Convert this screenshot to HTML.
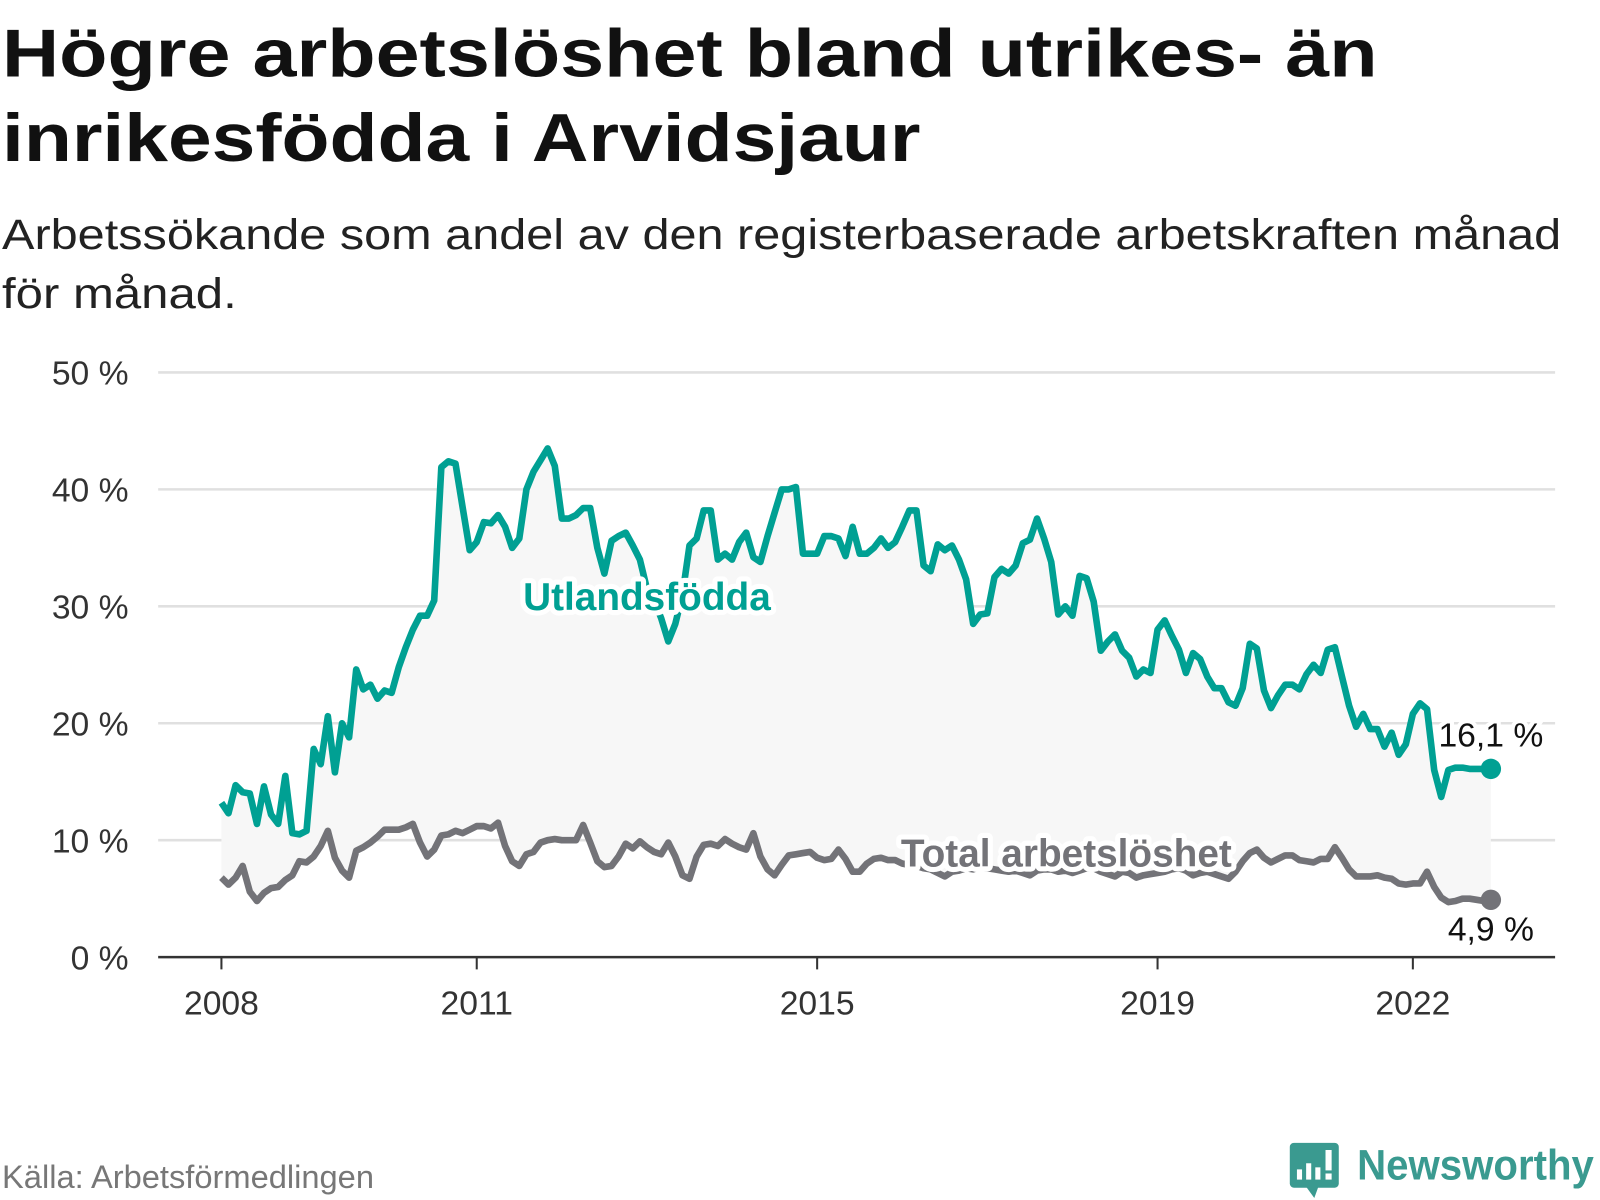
<!DOCTYPE html>
<html><head><meta charset="utf-8">
<style>
html,body{margin:0;padding:0;background:#fff;}
svg{display:block;font-family:"Liberation Sans","DejaVu Sans",sans-serif;}
</style></head>
<body>
<svg id="chart" width="1600" height="1200" viewBox="0 0 1600 1200" xmlns="http://www.w3.org/2000/svg">
 <g transform="scale(1.02041)">
  <text x="2" y="75" font-size="66" font-weight="bold" fill="#111" textLength="1348" lengthAdjust="spacingAndGlyphs">Högre arbetslöshet bland utrikes- än</text>
  <text x="2" y="158" font-size="66" font-weight="bold" fill="#111" textLength="900" lengthAdjust="spacingAndGlyphs">inrikesfödda i Arvidsjaur</text>
  <text x="2" y="244" font-size="42" fill="#222" textLength="1528" lengthAdjust="spacingAndGlyphs">Arbetssökande som andel av den registerbaserade arbetskraften månad</text>
  <text x="2" y="302" font-size="42" fill="#222" textLength="230" lengthAdjust="spacingAndGlyphs">för månad.</text>
  <g id="grid"></g>
  <g id="yticks"></g>
  <g id="xticks"></g>
  <g id="plot"></g>
  <text x="2" y="1164" font-size="32" fill="#777">Källa: Arbetsförmedlingen</text>
  <g>
    <rect x="1264" y="1120" width="48" height="44" rx="4" fill="#3a9a90"/>
    <polygon points="1280,1163 1292,1163 1288,1174" fill="#3a9a90"/>
    <rect x="1271" y="1146" width="5" height="10" fill="#fff"/>
    <rect x="1280" y="1140" width="5" height="16" fill="#fff"/>
    <rect x="1289" y="1144" width="5" height="12" fill="#fff"/>
    <rect x="1299" y="1127" width="6" height="20" fill="#fff"/>
    <rect x="1299" y="1150" width="6" height="6" fill="#fff"/>
    <text x="1330" y="1156" font-size="42" font-weight="bold" fill="#3a9a90" textLength="232" lengthAdjust="spacingAndGlyphs">Newsworthy</text>
  </g>
 </g>
</svg>
<script>
const yTicks = [0, 10, 20, 30, 40, 50];
const xTickYears = [2008, 2011, 2015, 2019, 2022];
const startYear = 2008;
const utlandsfodda = [
13.2,12.3,14.7,14.1,14.0,11.4,14.6,12.2,11.4,15.5,10.6,10.5,
10.8,17.8,16.5,20.6,15.8,20.0,18.8,24.6,22.9,23.3,22.1,22.8,
22.6,24.8,26.5,28.0,29.2,29.2,30.5,41.9,42.4,42.2,38.5,34.8,
35.5,37.2,37.1,37.8,36.8,35.0,35.8,40.0,41.5,42.5,43.5,42.0,
37.5,37.5,37.8,38.4,38.4,35.0,32.8,35.6,36.0,36.3,35.2,34.0,
31.5,30.5,29.0,27.0,28.5,31.0,35.2,35.8,38.2,38.2,34.0,34.5,
34.0,35.5,36.3,34.2,33.8,36.0,38.0,40.0,40.0,40.2,34.5,34.5,
34.5,36.0,36.0,35.8,34.3,36.8,34.5,34.5,35.0,35.8,35.0,35.5,
36.8,38.2,38.2,33.5,33.0,35.3,34.8,35.2,34.0,32.3,28.5,29.3,
29.4,32.5,33.2,32.8,33.5,35.4,35.7,37.5,35.8,33.8,29.3,30.0,
29.2,32.6,32.4,30.4,26.2,27.0,27.6,26.2,25.6,24.0,24.6,24.3,
28.0,28.8,27.5,26.3,24.3,26.0,25.5,24.0,23.0,23.0,21.8,21.5,
23.0,26.8,26.4,22.8,21.3,22.4,23.3,23.3,22.9,24.2,25.0,24.3,
26.3,26.5,24.0,21.5,19.7,20.8,19.5,19.5,18.0,19.2,17.3,18.2,
20.8,21.7,21.2,16.0,13.7,16.0,16.2,16.2,16.1,16.1,16.1,16.1];
const total = [
6.8,6.2,6.8,7.8,5.6,4.8,5.5,5.9,6.0,6.6,7.0,8.2,
8.1,8.6,9.5,10.8,8.5,7.4,6.8,9.1,9.4,9.8,10.3,10.9,
10.9,10.9,11.1,11.4,9.8,8.6,9.2,10.4,10.5,10.8,10.6,10.9,
11.2,11.2,11.0,11.5,9.5,8.2,7.8,8.8,9.0,9.8,10.0,10.1,
10.0,10.0,10.0,11.3,9.8,8.2,7.7,7.8,8.6,9.7,9.3,9.9,
9.4,9.0,8.8,9.8,8.6,7.0,6.7,8.6,9.6,9.7,9.5,10.1,
9.7,9.4,9.2,10.6,8.6,7.5,7.0,7.9,8.7,8.8,8.9,9.0,
8.5,8.3,8.4,9.2,8.4,7.3,7.3,8.0,8.4,8.5,8.3,8.3,
8.0,7.9,7.8,7.6,7.5,7.2,6.9,7.3,7.4,7.6,7.5,7.7,
7.6,7.5,7.4,7.3,7.4,7.2,7.0,7.4,7.5,7.5,7.3,7.4,
7.2,7.4,7.6,7.6,7.3,7.1,6.9,7.3,7.2,6.8,7.0,7.1,
7.2,7.3,7.5,7.6,7.4,7.0,7.2,7.3,7.1,6.9,6.7,7.3,
8.2,8.9,9.2,8.5,8.1,8.4,8.7,8.7,8.3,8.2,8.1,8.4,
8.4,9.4,8.5,7.5,6.9,6.9,6.9,7.0,6.8,6.7,6.3,6.2,
6.3,6.3,7.3,6.0,5.1,4.7,4.8,5.0,5.0,4.9,4.8,4.9];
const lastLabels = ["16,1 %", "4,9 %"];

const NS = "http://www.w3.org/2000/svg";
const X0 = 217, PXY = 83.4, Y0 = 938, PXP = 11.46;
function xScale(i){ return X0 + (i/12)*PXY; }
function xYear(yr){ return X0 + (yr-startYear)*PXY; }
function yScale(v){ return Y0 - v*PXP; }
function mk(tag, attrs, parent){ const e=document.createElementNS(NS,tag); for(const k in attrs) e.setAttribute(k,attrs[k]); parent.appendChild(e); return e; }

const grid=document.getElementById('grid'), yt=document.getElementById('yticks'), xt=document.getElementById('xticks'), plot=document.getElementById('plot');
yTicks.forEach(t=>{
  if(t>0){
    const g=mk('line',{x1:155,x2:1524,y1:yScale(t),y2:yScale(t),stroke:'#e0e0e0','stroke-width':2.5},grid);
    
    
  }
  const l=mk('text',{x:126,y:yScale(t)+12,'font-size':33,fill:'#333','text-anchor':'end'},yt);
  l.textContent=t+' %';
  
  
});
xTickYears.forEach(yr=>{
  const x=xYear(yr);
  const tk=mk('line',{x1:x,x2:x,y1:938,y2:950,stroke:'#333','stroke-width':2},xt);
  
  
  const l=mk('text',{x:x,y:994,'font-size':33,fill:'#333','text-anchor':'middle'},xt);
  l.textContent=String(yr);
  
  
});

let d='';
utlandsfodda.forEach((v,i)=>{ d+=(i?'L':'M')+xScale(i).toFixed(1)+','+yScale(v).toFixed(1); });
for(let i=total.length-1;i>=0;i--) d+='L'+xScale(i).toFixed(1)+','+yScale(total[i]).toFixed(1);
const area=mk('path',{d:d+'Z',fill:'#f7f7f7'},plot);



const axis=mk('line',{x1:155,x2:1524,y1:938,y2:938,stroke:'#333','stroke-width':2.5},plot);



function line(arr,color,name){
  let p=''; arr.forEach((v,i)=>{ p+=(i?'L':'M')+xScale(i).toFixed(1)+','+yScale(v).toFixed(1); });
  const e=mk('path',{d:p,fill:'none',stroke:color,'stroke-width':6.5,'stroke-linejoin':'round'},plot);
  
  
}
line(total,'#737378','line-total');
line(utlandsfodda,'#00a093','line-utlandsfodda');

function halo(x,y,txt,color,size,name,anchor){
  const h=mk('text',{x:x,y:y,'font-size':size,'font-weight':'bold',fill:'#fff',stroke:'#fff','stroke-width':10,'stroke-linejoin':'round','text-anchor':anchor},plot);
  h.textContent=txt;
  const t=mk('text',{x:x,y:y,'font-size':size,'font-weight':'bold',fill:color,'text-anchor':anchor},plot);
  t.textContent=txt;
  
  
}
halo(634,598,'Utlandsfödda','#00a093',38,'label-utlandsfodda','middle');
halo(1045,849,'Total arbetslöshet','#737378',38,'label-total','middle');

const n=utlandsfodda.length-1;
const d1=mk('circle',{cx:xScale(n),cy:yScale(utlandsfodda[n]),r:10,fill:'#00a093'},plot);


const d2=mk('circle',{cx:xScale(n),cy:yScale(total[n]),r:10,fill:'#737378'},plot);


function endLab(x,y,txt,name){
  const h=mk('text',{x:x,y:y,'font-size':33,fill:'#fff',stroke:'#fff','stroke-width':8,'text-anchor':'middle'},plot);
  h.textContent=txt;
  const t=mk('text',{x:x,y:y,'font-size':33,fill:'#111','text-anchor':'middle'},plot);
  t.textContent=txt;
  
  
}
endLab(xScale(n),yScale(utlandsfodda[n])-22,lastLabels[0],'end-label-utlandsfodda');
endLab(xScale(n),yScale(total[n])+40,lastLabels[1],'end-label-total');
</script>
</body></html>
